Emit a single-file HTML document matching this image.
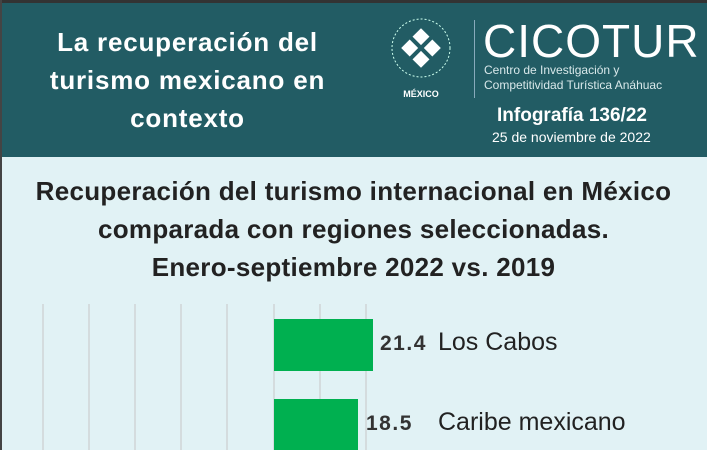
<!DOCTYPE html>
<html><head><meta charset="utf-8"><style>
body{margin:0;width:707px;height:450px;overflow:hidden;background:#e1f2f5;font-family:"Liberation Sans",sans-serif;position:relative}
.t{position:absolute;white-space:nowrap}
</style></head><body>
<div style="position:absolute;left:0;top:0;width:707px;height:3px;background:#333"></div>
<div style="position:absolute;left:0;top:0;width:2px;height:450px;background:#444"></div>
<div style="position:absolute;left:2px;top:3px;width:705px;height:154px;background:#225c64"></div>
<div class="t" style="left:0;width:375px;top:23px;text-align:center;color:#fff;font-weight:bold;font-size:26px;letter-spacing:0.8px;line-height:38px">La recuperación del<br>turismo mexicano en<br>contexto</div>
<svg style="position:absolute;left:388px;top:10px" width="80" height="90">
<circle cx="33" cy="38" r="29" fill="none" stroke="#cfe" stroke-width="1" stroke-dasharray="2 2"/>
<g transform="translate(33,38) rotate(45)" fill="#fff"><rect x="-14" y="-14" width="12" height="12"/><rect x="2" y="-14" width="12" height="12"/><rect x="-14" y="2" width="12" height="12"/><rect x="2" y="2" width="12" height="12"/></g>
<text x="33" y="87" font-size="9" font-weight="bold" fill="#fff" text-anchor="middle" font-family="Liberation Sans">MÉXICO</text>
</svg>
<div style="position:absolute;left:474px;top:20px;width:1px;height:78px;background:#8ab"></div>
<div class="t" style="left:483px;top:14px;color:#fff;font-size:46px;letter-spacing:1px">CICOTUR</div>
<div class="t" style="left:484px;top:63px;color:#d8e8ea;font-size:12px;line-height:15px">Centro de Investigación y<br>Competitividad Turística Anáhuac</div>
<div class="t" style="left:497px;top:105px;color:#fff;font-weight:bold;font-size:19px">Infografía 136/22</div>
<div class="t" style="left:492px;top:129px;color:#fff;font-size:14px">25 de noviembre de 2022</div>
<div class="t" style="left:0;width:707px;top:172px;text-align:center;color:#222;font-weight:bold;font-size:26px;line-height:38px;letter-spacing:0.3px">Recuperación del turismo internacional en México<br>comparada con regiones seleccionadas.<br>Enero-septiembre 2022 vs. 2019</div>
<svg style="position:absolute;left:0;top:0" width="707" height="450">
<g stroke="#d4dcde" stroke-width="2">
<line x1="43" y1="304" x2="43" y2="450"/><line x1="89" y1="304" x2="89" y2="450"/><line x1="135" y1="304" x2="135" y2="450"/><line x1="181" y1="304" x2="181" y2="450"/><line x1="227" y1="304" x2="227" y2="450"/><line x1="274" y1="304" x2="274" y2="450"/><line x1="320" y1="304" x2="320" y2="450"/><line x1="366" y1="304" x2="366" y2="450"/></g>
<rect x="274" y="319" width="99" height="52" fill="#00b050"/>
<rect x="274" y="399" width="84" height="51" fill="#00b050"/>
</svg>
<div class="t" style="left:380px;top:332px;color:#333;font-weight:bold;font-size:21px;letter-spacing:1.5px">21.4</div>
<div class="t" style="left:438px;top:328px;color:#222;font-size:25px">Los Cabos</div>
<div class="t" style="left:366px;top:412px;color:#333;font-weight:bold;font-size:21px;letter-spacing:1.5px">18.5</div>
<div class="t" style="left:438px;top:408px;color:#222;font-size:25px">Caribe mexicano</div>
</body></html>
